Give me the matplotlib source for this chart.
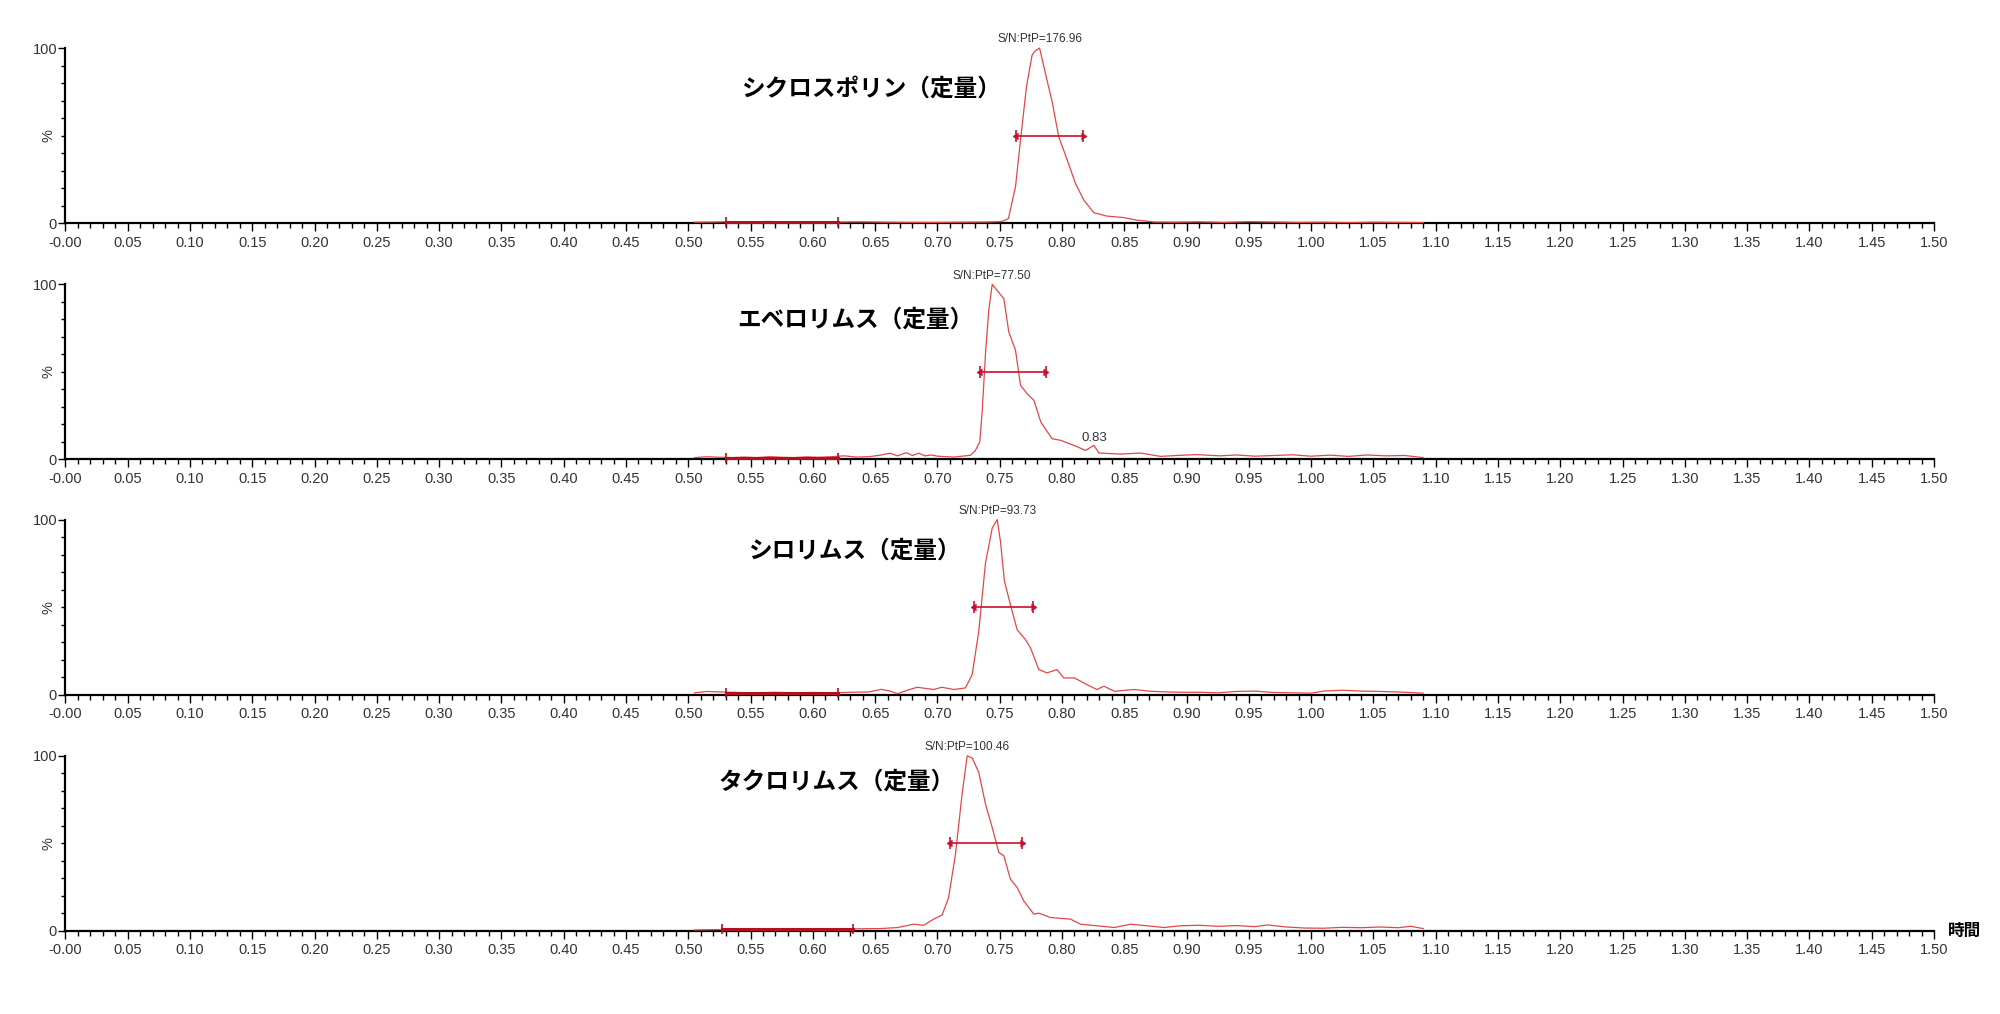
import matplotlib
matplotlib.use("Agg")
import matplotlib.pyplot as plt
from matplotlib.ticker import MultipleLocator, FuncFormatter

plt.rcParams['font.family'] = ['Liberation Sans', 'DejaVu Sans']

# --- data (time in min, intensity in %) ---
titles = ["シクロスポリン（定量）", "エベロリムス（定量）", "シロリムス（定量）", "タクロリムス（定量）"]
sn_labels = ["S/N:PtP=176.96", "S/N:PtP=77.50", "S/N:PtP=93.73", "S/N:PtP=100.46"]
peak_times = [0.782, 0.744, 0.748, 0.724]
title_x = [0.647, 0.634, 0.633, 0.619]
title_y = [77, 80, 82, 85]
half_width = [(0.763, 0.817), (0.734, 0.787), (0.729, 0.777), (0.710, 0.768)]
noise_range = [(0.530, 0.620), (0.530, 0.620), (0.530, 0.620), (0.527, 0.632)]

t1 = [0.505, 0.52, 0.535, 0.55, 0.565, 0.58, 0.60, 0.62, 0.64, 0.66, 0.68, 0.70, 0.72, 0.74,
      0.750, 0.753, 0.757, 0.7627, 0.7667, 0.7715, 0.776, 0.7787, 0.782, 0.7867, 0.7921,
      0.7974, 0.8042, 0.8108, 0.8175, 0.8256, 0.836, 0.849, 0.860, 0.874, 0.89, 0.91, 0.93,
      0.95, 0.97, 0.99, 1.01, 1.03, 1.05, 1.07, 1.09]
y1 = [0.5, 0.6, 0.8, 0.7, 0.9, 0.5, 0.4, 0.6, 0.7, 0.5, 0.4, 0.4, 0.5, 0.6,
      0.8, 1.2, 2.6, 20.8, 47.4, 77.9, 96.0, 98.5, 100, 85.5, 69.3,
      49.3, 36.0, 22.7, 13.1, 5.9, 4.0, 3.2, 1.7, 0.6, 0.5, 0.7, 0.4,
      0.8, 0.6, 0.4, 0.5, 0.3, 0.5, 0.4, 0.3]

t2 = [0.505, 0.515, 0.525, 0.535, 0.545, 0.555, 0.565, 0.575, 0.585, 0.595, 0.605, 0.615,
      0.625, 0.635, 0.645, 0.655, 0.662, 0.668, 0.675, 0.680, 0.685, 0.690, 0.695, 0.700,
      0.713, 0.7265, 0.7305, 0.734, 0.736, 0.7386, 0.7412, 0.744, 0.7533, 0.7573, 0.7627,
      0.7667, 0.772, 0.7775, 0.783, 0.792, 0.7988, 0.8095, 0.8189, 0.8256, 0.8296, 0.847,
      0.863, 0.879, 0.895, 0.908, 0.927, 0.94, 0.955, 0.97, 0.985, 1.0, 1.015, 1.03, 1.045,
      1.06, 1.075, 1.09]
y2 = [1.0, 1.5, 1.2, 1.0, 1.3, 1.0, 1.5, 1.2, 1.0, 1.4, 1.2, 1.5,
      2.0, 1.3, 1.5, 2.5, 3.5, 2.0, 3.8, 2.2, 3.5, 2.0, 2.5, 1.8,
      1.3, 2.3, 5.1, 9.9, 28.0, 60.4, 85.0, 100, 91.8, 72.8, 62.3,
      42.3, 37.5, 33.7, 21.3, 11.8, 10.9, 8.0, 5.1, 8.0, 3.6, 3.0,
      3.6, 1.7, 2.3, 2.7, 2.0, 2.5, 1.8, 2.2, 2.6, 1.8, 2.4, 1.7, 2.5,
      2.0, 2.2, 1.0]

t3 = [0.505, 0.515, 0.525, 0.54, 0.555, 0.57, 0.585, 0.60, 0.615, 0.63, 0.645, 0.655, 0.662,
      0.668, 0.676, 0.6837, 0.697, 0.7036, 0.713, 0.7225, 0.7279, 0.7332, 0.7386, 0.744,
      0.748, 0.7506, 0.7538, 0.7586, 0.764, 0.7707, 0.7747, 0.7814, 0.788, 0.796, 0.8015,
      0.810, 0.820, 0.828, 0.8336, 0.842, 0.858, 0.871, 0.885, 0.90, 0.912, 0.925, 0.94,
      0.955, 0.97, 0.985, 1.0, 1.01, 1.025, 1.04, 1.055, 1.07, 1.09]
y3 = [1.0, 1.8, 1.5, 1.2, 1.0, 1.3, 1.0, 1.2, 1.0, 1.3, 1.5, 3.0, 2.0,
      0.5, 2.5, 4.2, 2.9, 4.2, 2.9, 3.8, 11.4, 36.2, 75.2, 95.2,
      100, 87.6, 64.8, 51.4, 37.1, 31.4, 26.7, 14.3, 12.4, 14.3, 9.5,
      9.5, 5.7, 2.9, 4.8, 1.9, 2.9, 1.9, 1.5, 1.3, 1.3, 1.0, 1.8,
      2.0, 1.2, 1.0, 0.8, 2.0, 2.5, 2.0, 1.8, 1.5, 0.8]

t4 = [0.505, 0.52, 0.535, 0.55, 0.565, 0.58, 0.595, 0.61, 0.625, 0.64, 0.654, 0.668, 0.681,
      0.689, 0.697, 0.7038, 0.709, 0.7145, 0.7198, 0.7239, 0.728, 0.7332, 0.7386, 0.744,
      0.7493, 0.7533, 0.7586, 0.764, 0.7693, 0.7774, 0.7814, 0.7908, 0.8068, 0.8149, 0.828,
      0.842, 0.855, 0.868, 0.882, 0.895, 0.91, 0.925, 0.94, 0.955, 0.965, 0.98, 0.995, 1.01,
      1.025, 1.04, 1.055, 1.07, 1.08, 1.09]
y4 = [0.5, 0.7, 0.8, 0.6, 0.8, 0.7, 0.9, 0.8, 1.0, 1.2, 1.3, 1.9, 3.8,
      3.2, 6.7, 9.1, 19.0, 43.8, 78.1, 100, 98.7, 90.5, 72.4, 59.0,
      44.8, 42.9, 29.5, 24.8, 17.1, 9.5, 10.1, 7.6, 6.7, 3.8, 2.9,
      1.9, 3.8, 2.9, 1.9, 2.9, 3.2, 2.6, 3.0, 2.4, 3.4, 2.2, 1.6, 1.5,
      2.0, 1.8, 2.2, 1.8, 2.6, 1.3]

traces = [(t1, y1), (t2, y2), (t3, y3), (t4, y4)]

trace_color = '#e04848'
mark_color = '#c8102e'
text_color = '#333333'

fig = plt.figure(figsize=(20, 10.14), dpi=100)
bottoms = [0.780, 0.547, 0.315, 0.082]

for i, (t, y) in enumerate(traces):
    ax = fig.add_axes([0.0327, bottoms[i], 0.9343, 0.1726])
    ax.plot(t, y, color=trace_color, lw=0.9, clip_on=False, zorder=3)

    ax.set_xlim(0, 1.5)
    ax.set_ylim(0, 100)
    for side in ['top', 'right']:
        ax.spines[side].set_visible(False)
    ax.spines['left'].set_linewidth(1.6)
    ax.spines['bottom'].set_linewidth(1.6)

    ax.xaxis.set_major_locator(MultipleLocator(0.05))
    ax.xaxis.set_minor_locator(MultipleLocator(0.01))
    ax.xaxis.set_major_formatter(FuncFormatter(lambda v, p: '-0.00' if abs(v) < 1e-9 else f'{v:.2f}'))
    ax.set_yticks([0, 100])
    ax.yaxis.set_minor_locator(MultipleLocator(10))
    ax.tick_params(axis='x', which='major', length=6, width=1, pad=3, labelsize=10.5, labelcolor=text_color)
    ax.tick_params(axis='x', which='minor', length=3.5, width=1)
    ax.tick_params(axis='y', which='major', length=5, width=1, pad=1, labelsize=10.5, labelcolor=text_color)
    ax.tick_params(axis='y', which='minor', length=3, width=1)
    ax.text(-0.009, 0.5, '%', transform=ax.transAxes, rotation=90, ha='center', va='center',
            fontsize=10.5, color=text_color)

    # peak label
    ax.annotate(sn_labels[i], xy=(peak_times[i], 100), xytext=(0, 2), textcoords='offset points',
                ha='center', va='bottom', fontsize=8.5, color=text_color, annotation_clip=False)

    # compound name
    ax.text(title_x[i], title_y[i], titles[i], ha='center', va='center', fontsize=17,
            fontweight='bold', family=['Noto Sans CJK JP', 'DejaVu Sans'], color='black')

    # width at half height
    l, r = half_width[i]
    ax.plot([l, r], [50, 50], color=mark_color, lw=1.2, zorder=4)
    ax.plot([l, r], [50, 50], ls='none', marker='|', ms=8, mew=1.2, color=mark_color, zorder=4)
    ax.plot([l + 0.002], [50], ls='none', marker=8, ms=5, color=mark_color, zorder=4)
    ax.plot([r - 0.002], [50], ls='none', marker=9, ms=5, color=mark_color, zorder=4)

    # noise region
    nl, nr = noise_range[i]
    ax.plot([nl, nr], [0.8, 0.8], color='#b01020', lw=2.2, zorder=4, clip_on=False)
    ax.plot([nl, nr], [0.8, 0.8], ls='none', marker='|', ms=7, mew=1.2, color='#b01020',
            zorder=4, clip_on=False)

    if i == 1:
        ax.text(0.826, 9, '0.83', ha='center', va='bottom', fontsize=9.5, color=text_color)
    if i == 3:
        ax.text(1.511, 0, '時間', ha='left', va='center', fontsize=12, fontweight='bold',
                family=['Noto Sans CJK JP', 'DejaVu Sans'], color='black',
                transform=ax.transData, clip_on=False)

fig.savefig('out.png', dpi=100)
